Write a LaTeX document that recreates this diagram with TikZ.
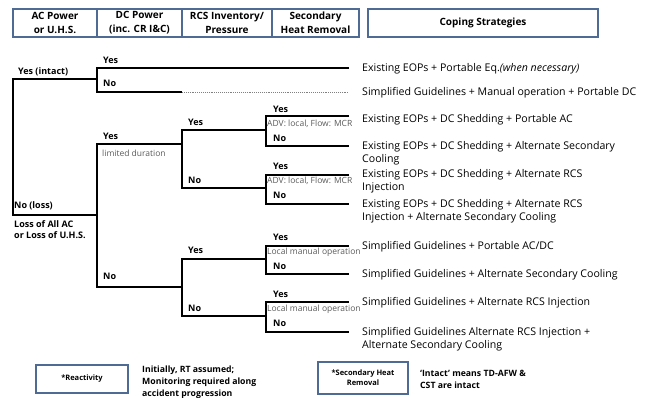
\documentclass[tikz,border=0pt]{standalone}
\usepackage{fontspec}
\setmainfont{Open Sans}
\usetikzlibrary{positioning}
\definecolor{headblue}{RGB}{79,107,148}
\definecolor{notegray}{RGB}{90,90,90}

\begin{document}
\begin{tikzpicture}[x=1pt, y=-1pt,
    head/.style={rectangle, draw=headblue, line width=1.6pt, outer sep=0pt, inner sep=0pt, align=center, minimum height=28pt, font=\bfseries\fontsize{10}{14}\selectfont},
    lbl/.style={anchor=west, inner sep=0pt, font=\bfseries\fontsize{9}{11}\selectfont},
    note/.style={anchor=west, inner sep=0pt, text=notegray, font=\fontsize{8.5}{10}\selectfont},
    coping/.style={anchor=north west, inner sep=0pt, align=left, font=\fontsize{10.6}{13.5}\selectfont},
    side/.style={anchor=west, inner sep=0pt, align=left, font=\bfseries\fontsize{8.7}{12}\selectfont},
    branch/.style={line width=1.1pt},
    dotline/.style={densely dotted, line width=0.9pt, gray}
]
\useasboundingbox (0,0) rectangle (653,398);

\node[head, minimum width=84pt] (h-ac) at (55,23) {AC Power\\or U.H.S.};
\node[head, minimum width=85pt, right=0pt of h-ac] (h-dc) {DC Power\\(inc. CR I\&C)};
\node[head, minimum width=90pt, right=0pt of h-dc] (h-rcs) {RCS Inventory/\\Pressure};
\node[head, minimum width=87pt, right=0pt of h-rcs] (h-shr) {Secondary\\Heat Removal};
\node[head, minimum width=230pt, right=9pt of h-shr] (h-cope) {Coping Strategies};

\coordinate (endx) at (349,0);
\coordinate (acL) at (13,79);
\coordinate (acY) at (97,79);
\coordinate (acN) at (97,215);
\coordinate (dcY1) at (97,68);
\coordinate (dcN1) at (97,92);
\coordinate (dcY2) at (97,144);
\coordinate (dcN2) at (97,287);
\coordinate (rcY1) at (182,130);
\coordinate (rcN1) at (182,188);
\coordinate (rcY2) at (182,259);
\coordinate (rcN2) at (182,316);
\coordinate (avY1) at (266,116);
\coordinate (avN1) at (266,146);
\coordinate (avY2) at (266,175);
\coordinate (avN2) at (266,204);
\coordinate (avY3) at (266,246);
\coordinate (avN3) at (266,274);
\coordinate (avY4) at (266,302);
\coordinate (avN4) at (266,332);

\draw[branch] (acY) -- (acL) |- (acN);
\draw[branch] (dcY1 -| endx) -- (dcY1) -- (dcN1) -- (dcN1 -| rcY1);
\draw[dotline] (dcN1 -| rcY1) -- (dcN1 -| endx);
\draw[branch] (dcY2 -| rcY1) -- (dcY2) -- (dcN2) -- (dcN2 -| rcY1);
\draw[branch] (rcY1 -| avY1) -- (rcY1) -- (rcN1) -- (rcN1 -| avY1);
\draw[branch] (rcY2 -| avY1) -- (rcY2) -- (rcN2) -- (rcN2 -| avY1);
\draw[branch] (avY1 -| endx) -- (avY1) -- (avN1) -- (avN1 -| endx);
\draw[branch] (avY2 -| endx) -- (avY2) -- (avN2) -- (avN2 -| endx);
\draw[branch] (avY3 -| endx) -- (avY3) -- (avN3) -- (avN3 -| endx);
\draw[branch] (avY4 -| endx) -- (avY4) -- (avN4) -- (avN4 -| endx);

\node[lbl] (l-intact) at (18,72) {Yes (intact)};
\node[lbl] (l-loss) at (14,206) {No (loss)};
\node[lbl, anchor=north west, align=left] (l-lossac) at (14,220) {Loss of All AC\\or Loss of U.H.S.};

\node[lbl] (dc-y1) at (103,60) {Yes};
\node[lbl] (dc-n1) at (103,83) {No};
\node[lbl] (dc-y2) at (103,136) {Yes};
\node[note] (dc-lim) at (102,153) {limited duration};
\node[lbl] (dc-n2) at (103,276) {No};

\node[lbl] (rc-y1) at (188,122) {Yes};
\node[lbl] (rc-n1) at (188,180) {No};
\node[lbl] (rc-y2) at (188,250) {Yes};
\node[lbl] (rc-n2) at (188,308) {No};

\node[lbl] (av-y1) at (273,109) {Yes};
\node[note] (av-t1) at (267,124) {ADV: local, Flow: MCR};
\node[lbl] (av-n1) at (273,138) {No};
\node[lbl] (av-y2) at (273,166) {Yes};
\node[note] (av-t2) at (267,181) {ADV: local, Flow: MCR};
\node[lbl] (av-n2) at (273,195) {No};
\node[lbl] (av-y3) at (273,237) {Yes};
\node[note] (av-t3) at (267,252) {Local manual operation};
\node[lbl] (av-n3) at (273,266) {No};
\node[lbl] (av-y4) at (273,294) {Yes};
\node[note] (av-t4) at (267,309) {Local manual operation};
\node[lbl] (av-n4) at (273,323) {No};

\node[coping] (c1) at (362,63) {Existing EOPs + Portable Eq.\textit{(when necessary)}};
\node[coping] (c2) at (362,87) {Simplified Guidelines + Manual operation + Portable DC};
\node[coping] (c3) at (362,114) {Existing EOPs + DC Shedding + Portable AC};
\node[coping] (c4) at (362,141) {Existing EOPs + DC Shedding + Alternate Secondary\\Cooling};
\node[coping] (c5) at (362,169) {Existing EOPs + DC Shedding + Alternate RCS\\Injection};
\node[coping] (c6) at (362,199) {Existing EOPs + DC Shedding + Alternate RCS\\Injection + Alternate Secondary Cooling};
\node[coping] (c7) at (362,241) {Simplified Guidelines + Portable AC/DC};
\node[coping] (c8) at (362,269) {Simplified Guidelines + Alternate Secondary Cooling};
\node[coping] (c9) at (362,297) {Simplified Guidelines + Alternate RCS Injection};
\node[coping] (c10) at (362,327) {Simplified Guidelines Alternate RCS Injection +\\Alternate Secondary Cooling};

\node[head, minimum width=92pt, font=\bfseries\fontsize{7.5}{10}\selectfont] (b-react) at (82,379) {*Reactivity};
\node[side] (b-react-txt) at (142,382) {Initially, RT assumed;\\Monitoring required along\\accident progression};
\node[head, minimum width=90pt, minimum height=32pt, font=\bfseries\fontsize{7.5}{10}\selectfont] (b-shr) at (363,378) {*Secondary Heat\\Removal};
\node[side] (b-shr-txt) at (420,379) {`Intact' means TD-AFW \&\\CST are intact};

\end{tikzpicture}
\end{document}
